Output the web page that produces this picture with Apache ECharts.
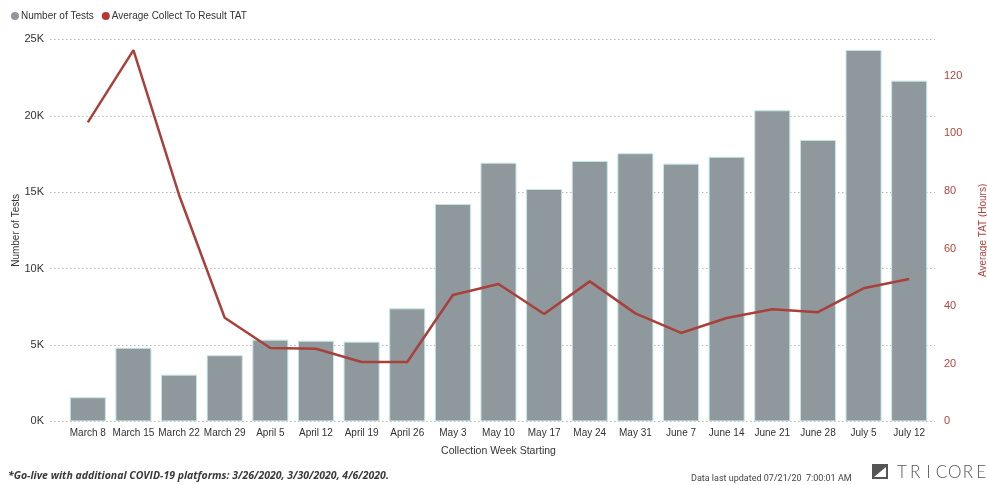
<!DOCTYPE html>
<html><head><meta charset="utf-8">
<script src="https://cdn.jsdelivr.net/npm/echarts@6/dist/echarts.min.js"></script>
<style>html,body{margin:0;padding:0;background:#fff}#c{width:987px;height:485px}</style>
</head><body><div id="c"></div>
<script>
const weeks = ['March 8','March 15','March 22','March 29','April 5','April 12','April 19','April 26','May 3','May 10','May 17','May 24','May 31','June 7','June 14','June 21','June 28','July 5','July 12'];
const numberOfTests = [1580,4820,3060,4330,5350,5280,5220,7400,14230,16930,15210,17040,17550,16870,17320,20360,18420,24310,22300];
const avgTAT = [103.8,128.9,78.6,36.0,25.5,25.2,20.6,20.6,43.9,47.7,37.3,48.6,37.5,30.7,35.9,38.9,37.9,46.2,49.4];
const leftTicks = [0,5000,10000,15000,20000,25000];
const rightTicks = [0,20,40,60,80,100,120];

const chart = echarts.init(document.getElementById('c'), null, {renderer:'canvas'});
const fnt = '"Liberation Sans", Arial, sans-serif';
const logoLetters = 'TRICORE'.split('').map((ch,i)=>({type:'text', x:30+i*13.2, y:0,
  style:{text:ch, font:'300 17px Lato, sans-serif', fill:'#555', align:'center'}}));
chart.setOption({
  animation:false,
  textStyle:{fontFamily:fnt},
  legend:{
    left:6, top:6, itemGap:8, itemWidth:8, itemHeight:8, icon:'circle',
    itemStyle:{borderWidth:0},
    textStyle:{fontSize:10, color:'#333', fontFamily:fnt, padding:[0,0,0,-3]},
    data:['Number of Tests','Average Collect To Result TAT']
  },
  grid:[
    {left:65, right:55, top:39.4, bottom:63.6, outerBoundsMode:'none', containLabel:false},
    {left:50, right:52, top:39.4, bottom:63.6, outerBoundsMode:'none', containLabel:false}
  ],
  xAxis:[
    {type:'category', gridIndex:0, data:weeks, axisLine:{show:false}, axisTick:{show:false},
     axisLabel:{fontSize:10, color:'#333', margin:7, interval:0, fontFamily:fnt},
     name:'Collection Week Starting', nameLocation:'middle', nameGap:24,
     nameTextStyle:{fontSize:10.5, color:'#333', fontFamily:fnt}},
    {type:'value', gridIndex:1, show:false, min:0, max:1}
  ],
  yAxis:[
    {type:'value', gridIndex:0, min:leftTicks[0], max:leftTicks[leftTicks.length-1], interval:5000,
     axisLabel:{show:false}, splitLine:{show:false}, axisLine:{show:false}, axisTick:{show:false}},
    {type:'value', gridIndex:0, position:'right', min:0, max:132.6, interval:20,
     axisLine:{show:false}, axisTick:{show:false}, splitLine:{show:false},
     axisLabel:{color:'#b0433d', fontSize:11, margin:12, showMaxLabel:false, fontFamily:fnt,
       formatter:v=>rightTicks.indexOf(v)>=0?String(v):''},
     name:'Average TAT (Hours)', nameLocation:'middle', nameGap:46, nameRotate:90, nameMoveOverlap:false,
     nameTextStyle:{color:'#b0433d', fontSize:10, fontFamily:fnt}},
    {type:'value', gridIndex:1, min:leftTicks[0], max:leftTicks[leftTicks.length-1], interval:5000,
     axisLine:{show:false}, axisTick:{show:false},
     splitLine:{show:true, lineStyle:{type:[1.5,2.5], color:'#b8b8b8', width:1}},
     axisLabel:{fontSize:11, color:'#333', margin:6, fontFamily:fnt, formatter:v=>(v/1000)+'K'},
     name:'Number of Tests', nameLocation:'middle', nameGap:29, nameMoveOverlap:false,
     nameTextStyle:{fontSize:10, color:'#333', fontFamily:fnt}}
  ],
  series:[
    {name:'Number of Tests', type:'bar', xAxisIndex:0, yAxisIndex:0, data:numberOfTests, barWidth:'79%',
     itemStyle:{color:'#8f989c', borderColor:'#c4e6e4', borderWidth:1}, z:2},
    {name:'Average Collect To Result TAT', type:'line', xAxisIndex:0, yAxisIndex:1, data:avgTAT,
     symbol:'none', lineStyle:{color:'#a8403b', width:2.5}, itemStyle:{color:'#b23a36'}, z:3}
  ],
  color:['#777','#b23a36'],
  graphic:[
    {type:'text', left:8, top:471, style:{text:'*Go-live with additional COVID-19 platforms: 3/26/2020, 3/30/2020, 4/6/2020.',
      font:'italic bold 10.5px "Open Sans", sans-serif', fill:'#3a3a3a'}},
    {type:'text', left:691, top:474, style:{text:'Data last updated 07/21/20  7:00:01 AM',
      font:'9px Roboto, sans-serif', fill:'#444'}},
    {type:'group', left:872, top:464, children:[
      {type:'rect', shape:{x:0,y:0,width:16,height:15}, style:{fill:'#555'}},
      {type:'polygon', shape:{points:[[2,13],[14,3],[14,13]]}, style:{fill:'#fff'}}
    ].concat(logoLetters)}
  ]
});
</script></body></html>
